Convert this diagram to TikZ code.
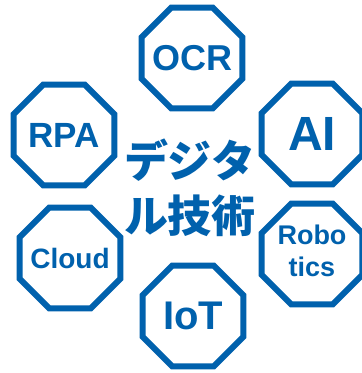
\documentclass[tikz,border=0pt]{standalone}
\usepackage{fontspec}
\setmainfont{Liberation Sans}
\newfontfamily\cjk{Noto Sans CJK JP}
\usetikzlibrary{shapes.geometric}
\definecolor{dblue}{HTML}{0061AD}
\tikzset{
  octa/.style={regular polygon, regular polygon sides=8, minimum size=109pt,
    inner sep=0pt, outer sep=0pt, draw=dblue, line width=6pt, fill=white},
  lbl/.style={inner sep=0pt, text=dblue, align=center},
}
\begin{document}
\begin{tikzpicture}[x=1pt,y=-1pt]
\useasboundingbox[fill=white] (0,0) rectangle (362,373);
\node[octa] (ocr) at (192,58) {};
\node[octa] (rpa) at (64,135) {};
\node[octa] (ai) at (312,134) {};
\node[octa] (cloud) at (70,258) {};
\node[octa] (rob) at (312,254) {};
\node[octa] (iot) at (193,316) {};
\node[lbl, font=\fontsize{36}{40}\selectfont\bfseries] (ocrt) at (ocr) {OCR};
\node[lbl, font=\fontsize{35}{40}\selectfont\bfseries] (rpat) at (rpa) {RPA};
\node[lbl, font=\fontsize{48}{50}\selectfont\bfseries] (ait) at (ai) {AI};
\node[lbl, font=\fontsize{28}{32}\selectfont\bfseries] (cloudt) at (cloud) {Cloud};
\node[lbl, font=\fontsize{27}{32}\selectfont\bfseries] (robt) at ([yshift=3pt]rob.center) {Robo\\tics};
\node[lbl, font=\fontsize{40}{44}\selectfont\bfseries] (iott) at (iot) {IoT};
\node[lbl, align=left, font=\cjk\bfseries\fontsize{44}{55}\selectfont] (dx) at (190,188) {デジタ\\ル技術};
\end{tikzpicture}
\end{document}
